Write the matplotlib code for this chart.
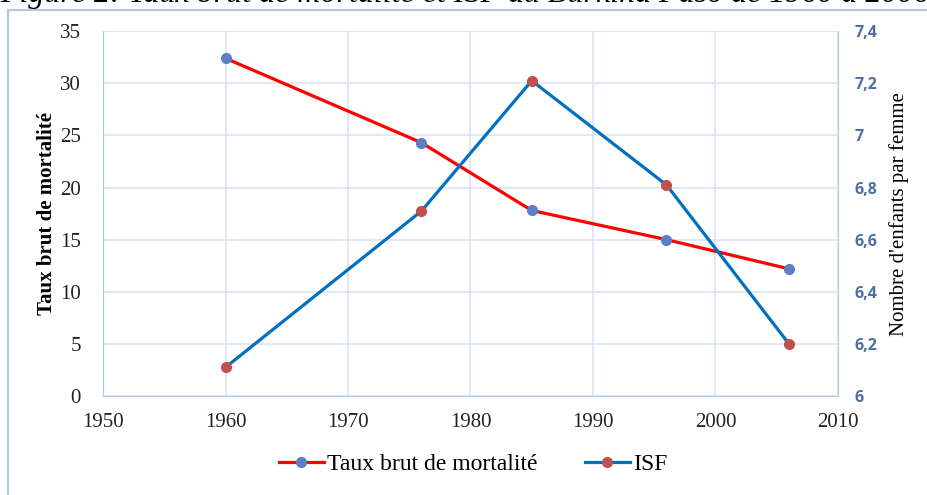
import matplotlib
matplotlib.use("Agg")
import matplotlib.pyplot as plt
from matplotlib.lines import Line2D
from matplotlib.ticker import FuncFormatter

# data
years = [1960, 1976, 1985, 1996, 2006]
mortalite = [32.4, 24.3, 17.8, 15.0, 12.2]
isf = [6.11, 6.71, 7.21, 6.81, 6.2]

left_ticks = [0, 5, 10, 15, 20, 25, 30, 35]
right_ticks = [6, 6.2, 6.4, 6.6, 6.8, 7, 7.2, 7.4]
x_ticks = [1950, 1960, 1970, 1980, 1990, 2000, 2010]

serif = "Liberation Serif"
grid_col = "#DAE3F3"
spine_col = "#B4C7E7"
red = "#FF0000"
blue = "#0070C0"
mk_blue = "#5B7FC4"
mk_red = "#C0504D"
right_tick_col = "#4F6FA3"

fig = plt.figure(figsize=(9.28, 4.95), dpi=100)
ax = fig.add_axes([0.111, 0.2, 0.792, 0.737])
ax2 = ax.twinx()

ax.plot(years, mortalite, color=red, lw=2.3, marker="o", markersize=7,
        markerfacecolor=mk_blue, markeredgecolor=mk_blue, zorder=3)
ax2.plot(years, isf, color=blue, lw=2.3, marker="o", markersize=7,
         markerfacecolor=mk_red, markeredgecolor=mk_red, zorder=3)

ax.set_xlim(1950, 2010)
ax.set_ylim(0, 35)
ax2.set_ylim(6, 7.4)
ax.set_xticks(x_ticks)
ax.set_yticks(left_ticks)
ax2.set_yticks(right_ticks)
ax2.yaxis.set_major_formatter(FuncFormatter(lambda v, p: f"{v:g}".replace(".", ",")))

ax.grid(True, color=grid_col, lw=1.2)
ax.set_axisbelow(True)
for a in (ax, ax2):
    for s in a.spines.values():
        s.set_visible(False)
ax2.spines["right"].set_visible(True)
ax2.spines["right"].set_color(spine_col)
ax.spines["left"].set_visible(True)
ax.spines["left"].set_color(spine_col)
ax.spines["bottom"].set_visible(True)
ax.spines["bottom"].set_color(spine_col)

ax.tick_params(axis="x", length=0, pad=12)
ax.tick_params(axis="y", length=0, pad=16)
for lbl in ax.get_xticklabels() + ax.get_yticklabels():
    lbl.set_fontfamily(serif)
    lbl.set_fontsize(15)
    lbl.set_color("#222222")
ax2.tick_params(axis="y", length=0, pad=12)
for lbl in ax2.get_yticklabels():
    lbl.set_fontfamily("Open Sans")
    lbl.set_fontweight("bold")
    lbl.set_fontsize(11.5)
    lbl.set_color(right_tick_col)

ax.set_ylabel("Taux brut de mortalité", fontfamily=serif, fontsize=15,
              fontweight="bold", labelpad=2)
ax2.set_ylabel("Nombre d'enfants par femme", fontfamily=serif, fontsize=15,
               labelpad=8)

handles = [
    Line2D([], [], color=red, lw=2.3, marker="o", markersize=7,
           markerfacecolor=mk_blue, markeredgecolor=mk_blue),
    Line2D([], [], color=blue, lw=2.3, marker="o", markersize=7,
           markerfacecolor=mk_red, markeredgecolor=mk_red),
]
fig.legend(handles, ["Taux brut de mortalité", "ISF"], loc="center",
           bbox_to_anchor=(0.51, 0.062), ncol=2, frameon=False,
           prop={"family": serif, "size": 17}, handlelength=1.9,
           handletextpad=0.15, columnspacing=2.0)

# cropped caption at the top and the chart frame
fig.text(0.0, 0.996, "Figure 2: Taux brut de mortalité et ISF au Burkina Faso de 1960 à 2006",
         fontfamily=serif, fontsize=23, style="italic", va="baseline", ha="left")
fig.add_artist(Line2D([8 / 928, 8 / 928], [0, 485 / 495], color=spine_col, lw=1.5,
                      transform=fig.transFigure))
fig.add_artist(Line2D([8 / 928, 1], [485 / 495, 485 / 495], color=spine_col, lw=1.5,
                      transform=fig.transFigure))

fig.savefig("out.png", dpi=100)
